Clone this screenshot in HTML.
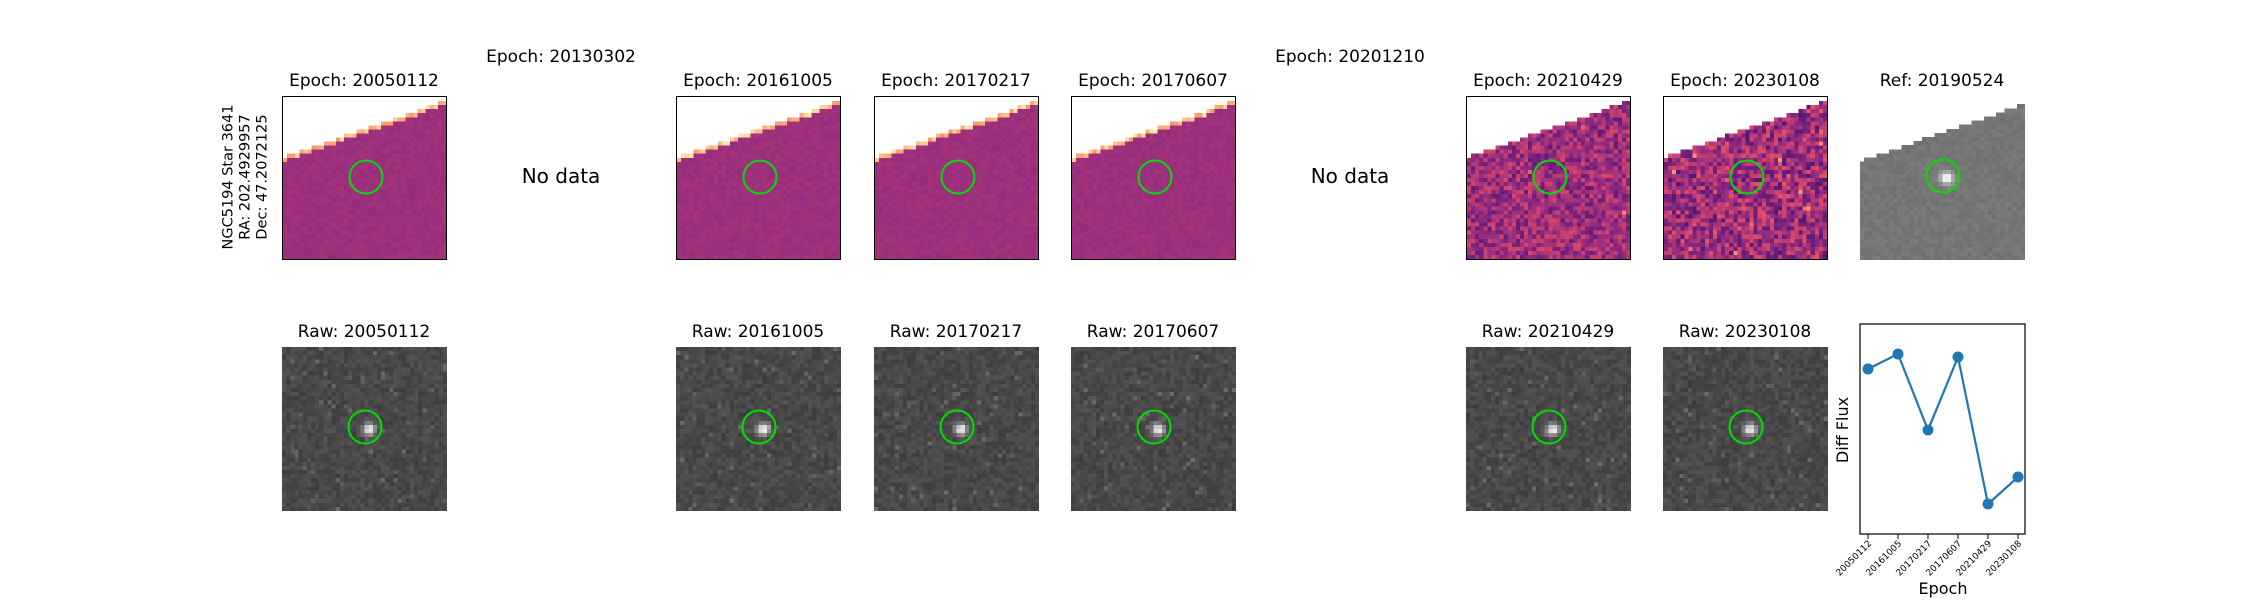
<!DOCTYPE html>
<html><head><meta charset="utf-8">
<style>
html,body{margin:0;padding:0;background:#fff;}
#root{position:relative;width:2250px;height:600px;overflow:hidden;font-family:"DejaVu Sans","Liberation Sans",sans-serif;color:#000;}
.t{position:absolute;font-size:17px;white-space:nowrap;transform:translateX(-50%);line-height:1;}
.nd{position:absolute;font-size:20px;white-space:nowrap;transform:translate(-50%,-50%);line-height:1;}
.pan{position:absolute;width:165px;height:164px;}
.pan canvas{width:100%;height:100%;image-rendering:pixelated;display:block;}
.bord{box-sizing:border-box;border:1.4px solid #000;}
.pan svg{position:absolute;left:0;top:0;}
</style></head><body>
<div id="root">
<div style="position:absolute;left:246px;top:177px;transform:translate(-50%,-50%) rotate(-90deg);font-size:14.5px;line-height:17px;text-align:center;white-space:nowrap;">NGC5194 Star 3641<br>RA: 202.4929957<br>Dec: 47.2072125</div>
<svg id="chart" width="2250" height="600" style="position:absolute;left:0;top:0;"></svg>
</div>
<script>
const chartEpochs=["20050112","20161005","20170217","20170607","20210429","20230108"];
const chartFlux=[165,180,104,177,30,57];
const yMin=0, yMax=210;

const root=document.getElementById('root');
const colX=[282,479,676,874,1071,1268,1466,1663,1860];
function seeded(s){return function(){s=(s*1664525+1013904223)>>>0;return s/4294967296;};}
const magma=[[0,[0,0,4]],[0.25,[59,15,112]],[0.5,[140,41,129]],[0.75,[222,73,104]],[0.9,[254,159,109]],[1,[252,253,191]]];
function cmap(t){t=Math.max(0,Math.min(1,t));for(let i=1;i<magma.length;i++){if(t<=magma[i][0]){const a=magma[i-1],b=magma[i];const f=(t-a[0])/(b[0]-a[0]);return a[1].map((v,k)=>Math.round(v+(b[1][k]-v)*f));}}return magma[5][1];}
function addText(cls,x,y,txt,name){const d=document.createElement('div');d.className=cls;d.style.left=x+'px';d.style.top=y+'px';d.textContent=txt;


root.appendChild(d);}
function circle(p){const s=document.createElementNS('http://www.w3.org/2000/svg','svg');s.setAttribute('width','165');s.setAttribute('height','164');
s.innerHTML='<circle cx="83" cy="80" r="16.5" fill="none" stroke="#00e000" stroke-width="2"/>';


p.appendChild(s);}
function panel(x,y,kind,seed,amp,border,name){
 const p=document.createElement('div');p.className='pan'+(border?' bord':'');p.style.left=x+'px';p.style.top=y+'px';
 
 
 const c=document.createElement('canvas');c.width=40;c.height=40;p.appendChild(c);root.appendChild(p);
 const g=c.getContext('2d');const img=g.createImageData(40,40);const r=seeded(seed);
 for(let j=0;j<40;j++)for(let i=0;i<40;i++){
  const k=(j*40+i)*4;let col;
  const edge=15.2-(i/39)*13.6;
  if(kind==='raw'){
   const dx=i-20.6,dy=j-19.6;const star=Math.exp(-(dx*dx+dy*dy)/2.2);
   let v=72+(r()-0.5)*22+(r()<0.04?25:0)+star*180;v=Math.min(255,v);col=[v,v,v];
  } else if(kind==='ref'){
   if(j<edge){col=[255,255,255];}else{const dx=i-20.5,dy=j-19.5;const star=Math.exp(-(dx*dx+dy*dy)/2.5);
   let v=118+(r()-0.5)*14+star*140;v=Math.min(255,v);col=[v,v,v];}
  } else {
   if(j<edge-1){col=[255,255,255];}
   else if(j<edge && amp<0.1){col=cmap(0.88+r()*0.1);}
   else{let t=0.55+(r()-0.5)*amp+(r()<0.02?amp*0.4:0);col=cmap(Math.min(t,0.88));}
  }
  img.data[k]=col[0];img.data[k+1]=col[1];img.data[k+2]=col[2];img.data[k+3]=255;}
 g.putImageData(img,0,0);circle(p);}
// top row
const topRow=[[0,"Epoch: 20050112",'diff',0.05],[2,"Epoch: 20161005",'diff',0.05],[3,"Epoch: 20170217",'diff',0.05],[4,"Epoch: 20170607",'diff',0.05],[6,"Epoch: 20210429",'diff',0.35],[7,"Epoch: 20230108",'diff',0.45],[8,"Ref: 20190524",'ref',0]];
topRow.forEach((d,n)=>{addText('t',colX[d[0]]+82,73,d[1],'top-title-'+n);panel(colX[d[0]],96,d[2],101+n*7,d[3],d[2]!=='ref','top-image-'+n);});
addText('t',colX[1]+82,49,"Epoch: 20130302",'missing-epoch-title');
addText('nd',colX[1]+82,176,"No data",'no-data-label');
addText('t',colX[5]+82,49,"Epoch: 20201210",'missing-epoch-title-2');
addText('nd',colX[5]+82,176,"No data",'no-data-label-2');
// bottom row
const botRow=[[0,"Raw: 20050112"],[2,"Raw: 20161005"],[3,"Raw: 20170217"],[4,"Raw: 20170607"],[6,"Raw: 20210429"],[7,"Raw: 20230108"]];
botRow.forEach((d,n)=>{addText('t',colX[d[0]]+82,324,d[1],'raw-title-'+n);panel(colX[d[0]],347,'raw',500+n*13,0,false,'raw-image-'+n);});

// chart
const svg=document.getElementById('chart');const NS='http://www.w3.org/2000/svg';
const ax={l:1860,r:2025,t:324,b:534};
function xs(i){return 1868+i*(2018-1868)/(chartEpochs.length-1);}
function ys(v){return ax.b-(v-yMin)/(yMax-yMin)*(ax.b-ax.t);}
function mk(tag,attrs,name){const e=document.createElementNS(NS,tag);for(const k in attrs)e.setAttribute(k,attrs[k]);
 
 
 svg.appendChild(e);return e;}
mk('rect',{x:ax.l,y:ax.t,width:ax.r-ax.l,height:ax.b-ax.t,fill:'none',stroke:'#000','stroke-width':1.2},'plot-frame');
mk('polyline',{points:chartFlux.map((v,i)=>xs(i)+','+ys(v)).join(' '),fill:'none',stroke:'#1f77b4','stroke-width':2.2},'flux-line');
chartFlux.forEach((v,i)=>{mk('circle',{cx:xs(i),cy:ys(v),r:5.5,fill:'#1f77b4'},'flux-point-'+chartEpochs[i]);});
chartEpochs.forEach((e,i)=>{mk('line',{x1:xs(i),x2:xs(i),y1:ax.b,y2:ax.b+5,stroke:'#000','stroke-width':1},'x-tick-'+e);
 const t=mk('text',{x:xs(i)+4,y:ax.b+10,'font-size':9,'text-anchor':'end','font-family':'DejaVu Sans, Liberation Sans, sans-serif',transform:'rotate(-45 '+(xs(i)+4)+' '+(ax.b+10)+')'},'x-tick-label-'+e);t.textContent=e;});
const xl=mk('text',{x:1943,y:594,'font-size':16,'text-anchor':'middle','font-family':'DejaVu Sans, Liberation Sans, sans-serif'},'x-axis-title');xl.textContent='Epoch';
const yl=mk('text',{x:1848,y:430,'font-size':16,'text-anchor':'middle','font-family':'DejaVu Sans, Liberation Sans, sans-serif',transform:'rotate(-90 1848 430)'},'y-axis-title');yl.textContent='Diff Flux';
</script>
</body></html>
